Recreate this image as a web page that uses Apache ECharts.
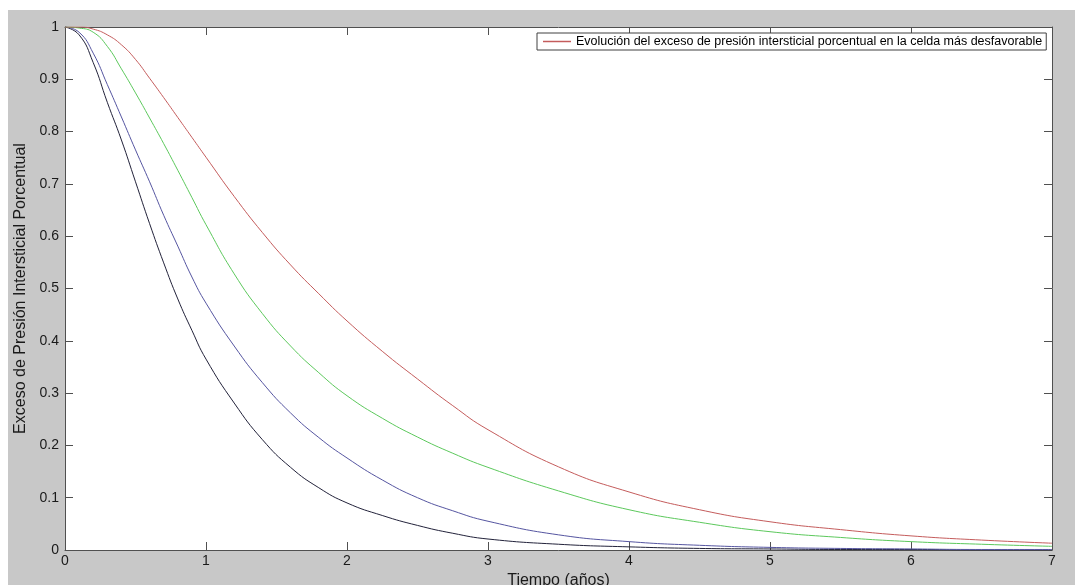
<!DOCTYPE html>
<html>
<head>
<meta charset="utf-8">
<script src="https://cdn.jsdelivr.net/npm/echarts@6/dist/echarts.min.js"></script>
<style>
  html, body { margin: 0; padding: 0; background: #ffffff; width: 1075px; height: 585px; overflow: hidden; }
  #chart { position: absolute; left: 8px; top: 10px; width: 1067px; height: 575px; }
</style>
</head>
<body>
<div id="chart"></div>
<script>
const tiempo = [0, 0.1, 0.2, 0.3, 0.4, 0.5, 0.6, 0.7, 0.8, 0.9, 1.0, 1.2, 1.4, 1.6, 1.8, 2.0, 2.25, 2.5, 2.75, 3.0, 3.5, 4.0, 4.5, 5.0, 5.5, 6.0, 6.5, 7.0];
const rojo  = [1, 1.0, 0.996, 0.985, 0.966, 0.938, 0.902, 0.865, 0.827, 0.789, 0.751, 0.676, 0.607, 0.545, 0.49, 0.438, 0.38, 0.327, 0.276, 0.23, 0.159, 0.111, 0.077, 0.054, 0.039, 0.027, 0.019, 0.013];
const verde = [1, 0.998, 0.99, 0.963, 0.92, 0.874, 0.826, 0.777, 0.726, 0.674, 0.622, 0.528, 0.452, 0.39, 0.339, 0.295, 0.252, 0.216, 0.185, 0.158, 0.113, 0.077, 0.053, 0.035, 0.024, 0.016, 0.011, 0.007];
const azul  = [1, 0.99, 0.95, 0.89, 0.828, 0.765, 0.704, 0.64, 0.581, 0.522, 0.472, 0.39, 0.32, 0.262, 0.215, 0.176, 0.134, 0.1, 0.075, 0.055, 0.029, 0.016, 0.009, 0.005, 0.003, 0.002, 0.001, 0.001];
const negro = [1, 0.985, 0.932, 0.856, 0.784, 0.704, 0.624, 0.549, 0.48, 0.42, 0.365, 0.281, 0.211, 0.158, 0.119, 0.09, 0.066, 0.047, 0.032, 0.021, 0.011, 0.006, 0.003, 0.002, 0.001, 0.001, 0, 0];
const xTicks = [0, 1, 2, 3, 4, 5, 6, 7];
const yTicks = [0, 0.1, 0.2, 0.3, 0.4, 0.5, 0.6, 0.7, 0.8, 0.9, 1];
const legendName = 'Evolución del exceso de presión intersticial porcentual en la celda más desfavorable';

const pairs = (ys) => tiempo.map((t, i) => [t, ys[i]]);
const FONT = '"Liberation Sans", Arial, sans-serif';
const axisLineStyle = { color: '#505050', width: 1 };

const chart = echarts.init(document.getElementById('chart'));
const mkLine = (name, ys, color) => ({
  name: name, type: 'line', data: pairs(ys), smooth: 0.5, showSymbol: false, symbol: 'none',
  lineStyle: { color: color, width: 1 }, itemStyle: { color: color }, animation: false,
  xAxisIndex: 0, yAxisIndex: 0
});

chart.setOption({
  backgroundColor: '#c8c8c8',
  animation: false,
  grid: { left: 57, right: 23, top: 17, bottom: 35, outerBoundsMode: 'none', containLabel: false,
          backgroundColor: '#ffffff', show: true, borderWidth: 0 },
  legend: {
    data: [{ name: legendName, icon: 'rect', itemStyle: { color: '#c45c5c' } }],
    left: 529, top: 23,
    backgroundColor: '#ffffff', borderColor: '#404040', borderWidth: 1, borderRadius: 0,
    padding: [2, 4, 2, 6],
    itemWidth: 28, itemHeight: 1.5, itemGap: 4,
    textStyle: { fontFamily: FONT, fontSize: 12.5, color: '#000000' }
  },
  xAxis: [
    {
      type: 'value', min: 0, max: 7, interval: 1, position: 'bottom',
      name: 'Tiempo (años)', nameLocation: 'middle', nameGap: 13,
      nameTextStyle: { fontFamily: FONT, fontSize: 16, color: '#1a1a1a' },
      axisLine: { show: true, onZero: false, lineStyle: axisLineStyle },
      axisTick: { show: true, inside: true, length: 8, lineStyle: axisLineStyle },
      axisLabel: { fontFamily: FONT, fontSize: 14, color: '#1a1a1a', margin: 4,
        formatter: (v) => xTicks.includes(v) ? String(v) : '' },
      splitLine: { show: false }
    },
    {
      type: 'value', min: 0, max: 7, interval: 1, position: 'top',
      axisLine: { show: true, onZero: false, lineStyle: axisLineStyle },
      axisTick: { show: true, inside: true, length: 8, lineStyle: axisLineStyle },
      axisLabel: { show: false }, splitLine: { show: false }
    }
  ],
  yAxis: [
    {
      type: 'value', min: 0, max: 1, interval: 0.1, position: 'left',
      name: 'Exceso de Presión Intersticial Porcentual', nameLocation: 'middle', nameGap: 31, nameRotate: 90,
      nameTextStyle: { fontFamily: FONT, fontSize: 16, color: '#1a1a1a' },
      axisLine: { show: true, onZero: false, lineStyle: axisLineStyle },
      axisTick: { show: true, inside: true, length: 8, lineStyle: axisLineStyle },
      axisLabel: { fontFamily: FONT, fontSize: 14, color: '#1a1a1a', margin: 6,
        formatter: (v) => { const r = Math.round(v * 10) / 10; return yTicks.includes(r) ? String(r) : ''; } },
      splitLine: { show: false }
    },
    {
      type: 'value', min: 0, max: 1, interval: 0.1, position: 'right',
      axisLine: { show: true, onZero: false, lineStyle: axisLineStyle },
      axisTick: { show: true, inside: true, length: 8, lineStyle: axisLineStyle },
      axisLabel: { show: false }, splitLine: { show: false }
    }
  ],
  series: [
    mkLine('negro', negro, '#22223a'),
    mkLine('azul', azul, '#5555a0'),
    mkLine('verde', verde, '#5cc85c'),
    mkLine(legendName, rojo, '#c45c5c')
  ]
});
</script>
</body>
</html>
